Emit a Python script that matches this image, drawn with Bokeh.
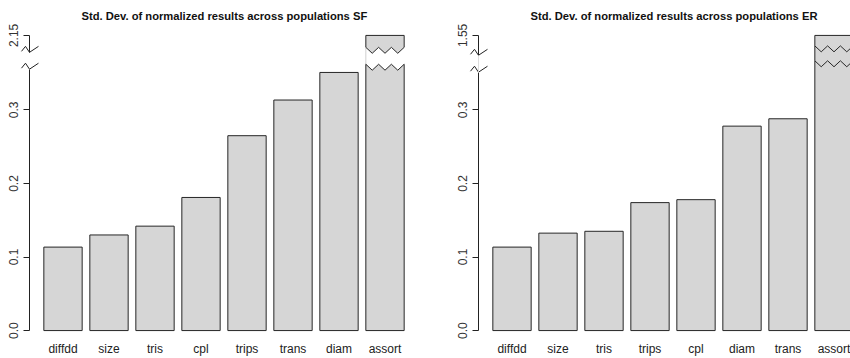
import math
from bokeh.plotting import figure
from bokeh.layouts import row
from bokeh.models import Range1d, FixedTicker, LinearAxis, ColumnDataSource
from bokeh.embed import file_html
from bokeh.resources import INLINE

# ---------------- data ----------------
sf_title = "Std. Dev. of normalized results across populations SF"
sf_labels = ["diffdd", "size", "tris", "cpl", "trips", "trans", "diam", "assort"]
sf_values = [0.1135, 0.130, 0.142, 0.181, 0.265, 0.3135, 0.351, 2.15]

er_title = "Std. Dev. of normalized results across populations ER"
er_labels = ["diffdd", "size", "tris", "trips", "cpl", "diam", "trans", "assort"]
er_values = [0.1135, 0.1325, 0.135, 0.174, 0.178, 0.278, 0.288, 1.55]

y_ticks = [0.0, 0.1, 0.2, 0.3]
y_tick_labels = ["0.0", "0.1", "0.2", "0.3"]
sf_top_label = "2.15"
er_top_label = "1.55"

# ---------------- layout constants ----------------
FIG_W, FIG_H = 425, 358
BORDER_T, BORDER_B = 22, 15
S = 740.0                                          # px per display unit
Y1 = (332 - BORDER_T) / S
Y0 = Y1 - (FIG_H - BORDER_T - BORDER_B) / S
PX_X = 46.0                                        # px per bar slot
DISP_TOP = (332 - 35) / S                          # display height of the broken (top) value
GAP_LO = 0.37                                      # values above this are drawn with a break
BAR_W = 1.0 / 1.2
AX_X = -0.7283

FILL = "#d6d6d6"
EDGE = "#262626"
AXC = "#222222"
FONT = "Liberation Sans"


def disp(v, vmax):
    return v if v <= GAP_LO else v - (vmax - DISP_TOP)


def zig_edge(left, right, center, amp, n=3):
    xs, ys = [], []
    for k in range(2 * n + 1):
        xs.append(left + (right - left) * k / (2 * n))
        ys.append(center + amp if k % 2 == 0 else center - amp)
    return xs, ys


def bare_axis(loc, lo, hi, color):
    ax = LinearAxis(fixed_location=loc, bounds=(lo, hi), ticker=FixedTicker(ticks=[]))
    ax.axis_line_color = color
    ax.axis_line_width = 1
    ax.major_tick_line_color = None
    ax.minor_tick_line_color = None
    ax.major_label_text_font_size = "0px"
    return ax


def panel(title, labels, values, top_label, x_start, x_end, title_off,
          axis_marks, bar_marks, gap_filled, axis_gap_color):
    vmax = max(values)
    p = figure(width=FIG_W, height=FIG_H, x_range=Range1d(x_start, x_end),
               y_range=Range1d(Y0, Y1), output_backend="svg", toolbar_location=None,
               min_border_left=0, min_border_right=0, min_border_top=BORDER_T,
               min_border_bottom=BORDER_B, x_axis_location=None, y_axis_location=None)
    p.outline_line_color = None
    p.xgrid.visible = False
    p.ygrid.visible = False
    p.background_fill_color = "white"
    p.border_fill_color = "white"

    p.title.text = title
    p.title.align = "left"
    p.title.offset = title_off
    p.title.standoff = 0
    p.title.vertical_align = "middle"
    p.title.text_font = FONT
    p.title.text_font_size = "11.2px"
    p.title.text_font_style = "bold"
    p.title.text_color = "#111111"

    xs = list(range(len(labels)))
    normal = [i for i, v in enumerate(values) if v <= GAP_LO]
    broken = [i for i, v in enumerate(values) if v > GAP_LO]

    src = ColumnDataSource(dict(
        left=[xs[i] - BAR_W / 2 for i in normal],
        right=[xs[i] + BAR_W / 2 for i in normal],
        top=[disp(values[i], vmax) for i in normal],
    ))
    p.quad(left="left", right="right", bottom=0, top="top", source=src,
           fill_color=FILL, line_color=EDGE, line_width=1)

    amp = 3.0 / S
    z_lo, z_hi = bar_marks
    pxs, pys = [], []
    mxs, mys = [], []
    gxs, gys = [], []
    for i in broken:
        L, R = xs[i] - BAR_W / 2, xs[i] + BAR_W / 2
        top = disp(values[i], vmax)
        lx, ly = zig_edge(L, R, z_lo, amp)
        hx, hy = zig_edge(L, R, z_hi, amp)
        pxs.append([L, R] + lx[::-1])
        pys.append([0, 0] + ly[::-1])
        pxs.append([L, R] + hx[::-1])
        pys.append([top, top] + hy[::-1])
        mxs.append(lx + hx[::-1])
        mys.append(ly + hy[::-1])
        gxs.append([L, L])
        gys.append([z_lo + amp, z_hi + amp])
    if gap_filled:
        p.patches(xs=mxs, ys=mys, fill_color=FILL, line_color=None)
        p.multi_line(xs=gxs, ys=gys, line_color=EDGE, line_width=1)
    else:
        p.multi_line(xs=gxs, ys=gys, line_color="#cfcfcf", line_width=1)
    p.patches(xs=pxs, ys=pys, fill_color=FILL, line_color=EDGE, line_width=1)

    # y axis break marks
    a_lo, a_hi = axis_marks
    offx = [-8 / PX_X, -4 / PX_X, 0, 9 / PX_X]
    offy = [-2 / S, 3 / S, -3 / S, 3 / S]
    lxs, lys = [], []
    for c in (a_lo, a_hi):
        lxs.append([AX_X + o for o in offx])
        lys.append([c + o for o in offy])
    p.multi_line(xs=lxs, ys=lys, line_color=AXC, line_width=1)

    # axis line pieces (below and above the break)
    p.add_layout(bare_axis(AX_X, 0, a_lo - 3 / S, AXC), "left")
    p.add_layout(bare_axis(AX_X, a_hi - 3 / S, DISP_TOP, AXC), "left")
    if axis_gap_color is not None:
        p.add_layout(bare_axis(AX_X, a_lo - 3 / S, a_hi - 3 / S, axis_gap_color), "left")

    ticks = y_ticks + [DISP_TOP]
    overrides = {t: s for t, s in zip(y_ticks, y_tick_labels)}
    overrides[DISP_TOP] = top_label
    yax = LinearAxis(fixed_location=AX_X, ticker=FixedTicker(ticks=ticks),
                     major_label_overrides=overrides)
    yax.axis_line_color = None
    yax.major_tick_out = 6
    yax.major_tick_in = 0
    yax.major_tick_line_color = AXC
    yax.minor_tick_line_color = None
    yax.major_label_orientation = "parallel"
    yax.major_label_standoff = 5
    yax.major_label_text_font = FONT
    yax.major_label_text_font_size = "12px"
    yax.major_label_text_color = "#333333"
    p.add_layout(yax, "left")

    xax = LinearAxis(ticker=FixedTicker(ticks=xs),
                     major_label_overrides={i: lab for i, lab in zip(xs, labels)})
    xax.axis_line_color = None
    xax.major_tick_line_color = None
    xax.minor_tick_line_color = None
    xax.major_tick_out = 0
    xax.major_tick_in = 0
    xax.major_label_standoff = 0
    xax.major_label_text_font = FONT
    xax.major_label_text_font_size = "12px"
    xax.major_label_text_color = "#222222"
    p.add_layout(xax, "below")
    return p


p1 = panel(sf_title, sf_labels, sf_values, sf_top_label,
           (0 - 62.5) / PX_X, (425 - 62.5) / PX_X, 81,
           (0.3595, 0.3824), (0.3581, 0.3811), False, None)
p2 = panel(er_title, er_labels, er_values, er_top_label,
           (425 - 511.5) / PX_X, (850 - 511.5) / PX_X, 105,
           (0.3554, 0.3784), (0.3628, 0.3831), True, "#dddddd")

layout = row(p1, p2)
open("out.html", "w").write(file_html(layout, INLINE))
